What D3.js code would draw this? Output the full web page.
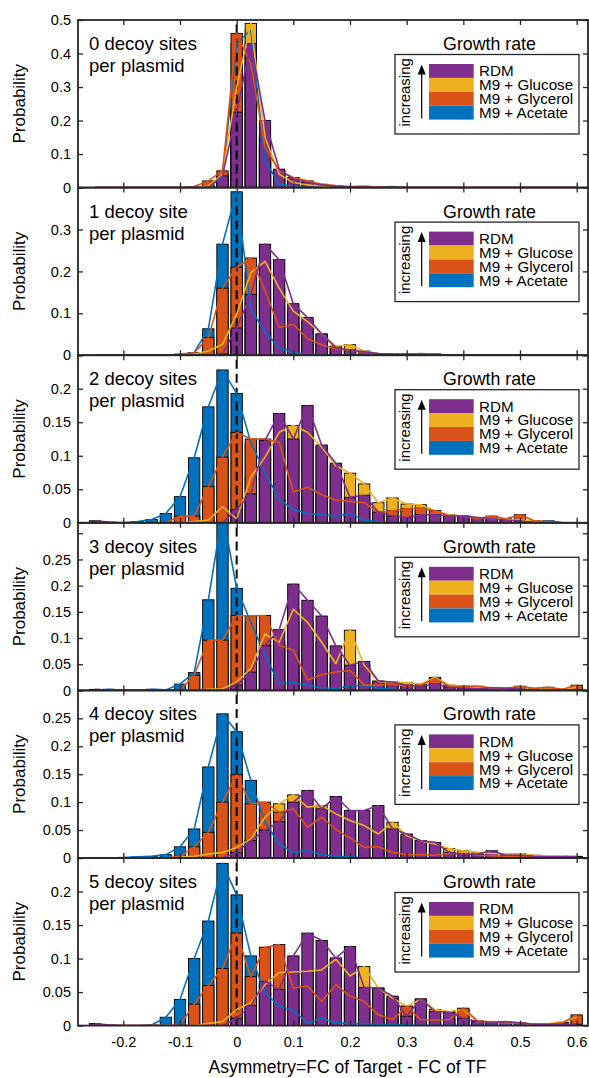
<!DOCTYPE html>
<html><head><meta charset="utf-8">
<script src="https://cdn.jsdelivr.net/npm/d3@7"></script>
<style>
body{margin:0;background:#fff}
svg{display:block}
text{font-family:"Liberation Sans",Arial,sans-serif;fill:#000}
</style>
</head><body>
<svg id="c" width="589" height="1078"></svg>
<script>
// ---------- data ----------
const binCenters = [-0.25,-0.225,-0.2,-0.175,-0.15,-0.125,-0.1,-0.075,-0.05,-0.025,0,0.025,0.05,0.075,0.1,0.125,0.15,0.175,0.2,0.225,0.25,0.275,0.3,0.325,0.35,0.375,0.4,0.425,0.45,0.475,0.5,0.525,0.55,0.575,0.6];
const seriesNames = ["RDM","M9 + Glucose","M9 + Glycerol","M9 + Acetate"];
const seriesColors = ["#7E2F8E","#EDB120","#D95319","#0072BD"];
const panelLabels = [["0 decoy sites","per plasmid"],["1 decoy site","per plasmid"],["2 decoy sites","per plasmid"],["3 decoy sites","per plasmid"],["4 decoy sites","per plasmid"],["5 decoy sites","per plasmid"]];
const yMax = [0.5,0.4,0.25,0.32,0.3,0.25];
const yTicks = [[0,0.1,0.2,0.3,0.4,0.5],[0,0.1,0.2,0.3,0.4],[0,0.05,0.1,0.15,0.2,0.25],[0,0.05,0.1,0.15,0.2,0.25,0.3],[0,0.05,0.1,0.15,0.2,0.25,0.3],[0,0.05,0.1,0.15,0.2,0.25]];
const yTickLabels = [["0","0.1","0.2","0.3","0.4","0.5"],["0","0.1","0.2","0.3",""],["0","0.05","0.1","0.15","0.2",""],["0","0.05","0.1","0.15","0.2","0.25",""],["0","0.05","0.1","0.15","0.2","0.25",""],["0","0.05","0.1","0.15","0.2",""]];
const xTicks = [-0.2,-0.1,0,0.1,0.2,0.3,0.4,0.5,0.6];
const xTickLabels = ["-0.2","-0.1","0","0.1","0.2","0.3","0.4","0.5","0.6"];
const xLabel = "Asymmetry=FC of Target - FC of TF";
const yLabel = "Probability";
const legendTitle = "Growth rate";
const legendSide = "increasing";

// panel 0
const rdm0      = [0,0,0,0,0,0,0,0,0,0.035,0.225,0.43,0.2,0.055,0.025,0.015,0.008,0.004,0.002,0,0,0,0,0,0,0,0,0,0,0,0,0,0,0,0];
const glucose0  = [0,0,0,0,0,0,0,0,0.005,0.04,0.3,0.49,0.15,0.04,0.015,0.008,0.004,0,0,0,0,0,0,0,0,0,0,0,0,0,0,0,0,0,0];
const glycerol0 = [0,0,0,0,0,0,0,0.003,0.02,0.05,0.46,0.37,0.12,0.05,0.03,0.02,0.01,0.006,0.003,0.004,0.002,0,0,0,0,0,0,0,0,0,0,0,0,0,0];
const acetate0  = [0,0,0,0,0,0,0,0,0.003,0.03,0.43,0.47,0.08,0.01,0.005,0,0,0,0,0,0.002,0.003,0,0,0,0,0,0,0,0,0,0,0,0,0];
// panel 1
const rdm1      = [0,0,0,0,0,0,0,0,0,0.003,0.065,0.145,0.265,0.228,0.123,0.09,0.051,0.018,0.012,0.008,0.004,0.002,0.002,0,0,0,0,0,0,0,0,0,0,0,0];
const glucose1  = [0,0,0,0,0,0,0.002,0.003,0.01,0.026,0.098,0.197,0.224,0.16,0.105,0.08,0.05,0.022,0.025,0.01,0.004,0.002,0,0,0,0,0,0,0,0,0,0,0,0,0];
const glycerol1 = [0,0,0,0,0,0,0.002,0.006,0.042,0.16,0.21,0.232,0.154,0.066,0.074,0.04,0.025,0.015,0.012,0.006,0.004,0.003,0.002,0.002,0.003,0,0,0,0,0,0,0,0,0,0];
const acetate1  = [0,0,0,0,0,0,0.002,0.006,0.063,0.265,0.39,0.11,0.055,0.018,0.006,0.003,0.002,0,0,0,0,0,0.002,0.004,0.002,0,0,0,0,0,0,0,0,0,0];
// panel 2
const rdm2      = [0.003,0.001,0,0,0,0,0,0,0,0,0.02,0.043,0.123,0.163,0.125,0.175,0.116,0.089,0.038,0.041,0.016,0.01,0.008,0.012,0.012,0.01,0.01,0.008,0.006,0.004,0.003,0,0,0,0];
const glucose2  = [0,0,0,0,0,0,0,0.002,0.004,0.024,0.006,0.068,0.098,0.135,0.145,0.135,0.113,0.085,0.074,0.058,0.03,0.037,0.028,0.027,0.018,0.012,0.01,0.008,0.006,0.005,0.004,0.003,0,0,0];
const glycerol2 = [0,0,0,0,0,0,0.01,0.01,0.054,0.098,0.135,0.125,0.125,0.12,0.046,0.053,0.042,0.034,0.032,0.03,0.015,0.018,0.021,0.022,0.018,0.01,0.01,0.006,0.01,0.006,0.012,0.003,0.002,0,0];
const acetate2  = [0,0,0,0.002,0.005,0.014,0.039,0.097,0.173,0.228,0.193,0.12,0.075,0.035,0.02,0.014,0.012,0.01,0.014,0.004,0.002,0,0,0,0,0,0,0,0,0,0,0,0.003,0,0];
// panel 3
const rdm3      = [0.002,0,0,0,0,0,0,0,0,0,0.01,0.035,0.086,0.116,0.203,0.172,0.142,0.085,0.048,0.055,0.018,0.016,0.01,0.008,0.012,0.006,0.004,0.003,0.005,0.004,0.003,0,0,0,0];
const glucose3  = [0,0,0,0,0,0,0,0,0.002,0.003,0.016,0.042,0.108,0.092,0.155,0.13,0.092,0.051,0.115,0.048,0.017,0.015,0.015,0.012,0.025,0.01,0.008,0.006,0.004,0.003,0.003,0.002,0.002,0.002,0.006];
const glycerol3 = [0,0,0,0,0,0,0,0.029,0.096,0.096,0.143,0.142,0.143,0.086,0.077,0.02,0.03,0.035,0.038,0.01,0.01,0.012,0.008,0.01,0.023,0.008,0.008,0.008,0.005,0.004,0.008,0.004,0.006,0.002,0.01];
const acetate3  = [0,0.002,0,0,0.002,0.001,0.012,0.034,0.173,0.34,0.195,0.13,0.067,0.013,0.015,0.01,0.005,0.004,0.008,0.01,0.004,0.002,0,0,0,0,0,0,0,0.002,0,0,0,0,0];
// panel 4
const rdm4      = [0,0,0,0,0,0,0,0,0,0,0.01,0.031,0.05,0.065,0.1,0.121,0.088,0.11,0.085,0.085,0.094,0.052,0.043,0.031,0.028,0.01,0.006,0.007,0.013,0.005,0.005,0.003,0.002,0.002,0.002];
const glucose4  = [0,0,0,0,0,0,0.002,0.003,0.007,0.01,0.019,0.034,0.073,0.097,0.113,0.091,0.094,0.079,0.067,0.058,0.043,0.064,0.04,0.031,0.025,0.017,0.013,0.01,0.008,0.007,0.008,0.005,0.004,0.004,0.003];
const glycerol4 = [0,0,0,0,0,0,0.003,0.02,0.046,0.1,0.149,0.097,0.1,0.082,0.088,0.055,0.073,0.051,0.036,0.019,0.02,0.01,0.006,0.006,0.005,0.008,0.008,0.005,0.004,0.003,0.003,0.002,0.002,0.001,0.002];
const acetate4  = [0,0,0.001,0.002,0.003,0.006,0.02,0.052,0.163,0.258,0.226,0.139,0.064,0.025,0.01,0.013,0.006,0.003,0.002,0,0,0,0,0,0,0,0,0,0,0,0,0,0,0,0];
// panel 5
const rdm5      = [0.003,0.001,0,0,0,0,0,0,0,0,0.011,0.03,0.066,0.054,0.104,0.138,0.127,0.101,0.118,0.057,0.056,0.044,0.014,0.04,0.021,0.02,0.011,0.006,0.005,0.006,0.004,0.002,0.002,0.002,0.002];
const glucose5  = [0,0,0,0,0,0,0,0,0.003,0.006,0.024,0.034,0.061,0.079,0.08,0.081,0.083,0.099,0.074,0.088,0.056,0.041,0.029,0.039,0.024,0.021,0.024,0.006,0.006,0.005,0.004,0.002,0.003,0.005,0.013];
const glycerol5 = [0,0,0,0,0,0,0.001,0.032,0.06,0.085,0.138,0.073,0.117,0.121,0.056,0.059,0.036,0.061,0.044,0.036,0.016,0.009,0.029,0.009,0.008,0.009,0.026,0.007,0.005,0.004,0.004,0.002,0.002,0.004,0.016];
const acetate5  = [0,0,0,0,0.001,0.0125,0.039,0.1,0.156,0.242,0.195,0.104,0.049,0.029,0.023,0.004,0.011,0.004,0.003,0.003,0.002,0.002,0.001,0,0,0,0,0,0,0,0,0,0,0,0];

const panelData = [
  [rdm0,glucose0,glycerol0,acetate0],
  [rdm1,glucose1,glycerol1,acetate1],
  [rdm2,glucose2,glycerol2,acetate2],
  [rdm3,glucose3,glycerol3,acetate3],
  [rdm4,glucose4,glycerol4,acetate4],
  [rdm5,glucose5,glycerol5,acetate5]
];

// ---------- layout ----------
const svg = d3.select("#c");
const left = 78, right = 588, top0 = 20, ph = 167.6;
const binWidth = 0.025, barFrac = 0.8;
const drawOrder = [3,1,2,0]; // acetate, glucose, glycerol, RDM (front)
const axisColor = "#262626";
const x = d3.scaleLinear().domain([-0.28,0.62]).range([left,right]);
const barW = x(binWidth*barFrac) - x(0);

svg.append("rect").attr("width",589).attr("height",1078).attr("fill","#fff");
const defs = svg.append("defs");

panelData.forEach((pd,i)=>{
  const top = top0 + i*ph, bottom = top + ph;
  const y = d3.scaleLinear().domain([0,yMax[i]]).range([bottom,top]);
  const g = svg.append("g");
  const clipId = "clip"+i;
  defs.append("clipPath").attr("id",clipId).append("rect")
    .attr("x",left).attr("y",top).attr("width",right-left).attr("height",ph);
  const plot = g.append("g").attr("clip-path",`url(#${clipId})`);

  drawOrder.forEach(s=>{
    const vals = binCenters.map((c,k)=>({c:c,v:pd[s][k]})).filter(d=>d.v>0);
    plot.append("g").selectAll("rect").data(vals).join("rect")
      .attr("x",d=>x(d.c) - barW/2)
      .attr("width",barW)
      .attr("y",d=>y(d.v))
      .attr("height",d=>bottom - y(d.v))
      .attr("fill",seriesColors[s])
      .attr("stroke","#000")
      .attr("stroke-width",0.9);
  });

  plot.append("line")
    .attr("x1",x(0)).attr("x2",x(0)).attr("y1",bottom).attr("y2",top)
    .attr("stroke","#000").attr("stroke-width",2).attr("stroke-dasharray","9,5");

  const line = d3.line().x((d,k)=>x(binCenters[k])).y(d=>y(d));
  drawOrder.forEach(s=>{
    plot.append("path").attr("d",line(pd[s]))
      .attr("fill","none").attr("stroke",seriesColors[s])
      .attr("stroke-width",1.6).attr("stroke-linejoin","round");
  });

  // axes
  const fmtY = v => yTickLabels[i][yTicks[i].indexOf(v)];
  const ax = [
    g.append("g").attr("transform",`translate(${left},0)`)
      .call(d3.axisLeft(y).tickValues(yTicks[i]).tickSize(-5).tickPadding(7).tickFormat(fmtY)),
    g.append("g").attr("transform",`translate(${right},0)`)
      .call(d3.axisRight(y).tickValues(yTicks[i]).tickSize(-5).tickFormat("")),
    g.append("g").attr("transform",`translate(0,${top})`)
      .call(d3.axisTop(x).tickValues(xTicks).tickSize(-5).tickFormat("")),
    g.append("g").attr("transform",`translate(0,${bottom})`)
      .call(d3.axisBottom(x).tickValues(xTicks).tickSize(-5).tickPadding(11)
        .tickFormat(i===5 ? (v=>xTickLabels[xTicks.indexOf(v)]) : ""))
  ];
  ax.forEach(a=>{
    a.select(".domain").remove();
    a.selectAll(".tick line").attr("stroke",axisColor).attr("stroke-width",1.3);
    a.selectAll(".tick text").attr("fill",axisColor).attr("font-size",14.5)
      .attr("font-family","Liberation Sans, Arial, sans-serif");
  });
  g.append("rect").attr("x",left).attr("y",top).attr("width",right-left).attr("height",ph)
    .attr("fill","none").attr("stroke",axisColor).attr("stroke-width",1.8);

  // y label
  g.append("text").attr("transform",`translate(24.5,${(top+bottom)/2}) rotate(-90)`)
    .attr("text-anchor","middle").attr("font-size",17).attr("fill",axisColor).text(yLabel);

  // panel label
  panelLabels[i].forEach((t,j)=>{
    g.append("text").attr("x",89).attr("y",top+30+j*22).attr("font-size",18.5).text(t);
  });

  // legend
  const lg = g.append("g").attr("transform",`translate(0,${top})`);
  const bx = 395, by = 34.5, bw = 184, bh = 79.5;
  lg.append("text").attr("x",489.5).attr("y",30).attr("text-anchor","middle")
    .attr("font-size",17.8).text(legendTitle);
  lg.append("rect").attr("x",bx).attr("y",by).attr("width",bw).attr("height",bh)
    .attr("fill","#fff").attr("stroke",axisColor).attr("stroke-width",1.3);
  const rowH = 13.9, row0 = by + 9.5;
  seriesNames.forEach((n,j)=>{
    lg.append("rect").attr("x",429).attr("y",row0 + j*rowH).attr("width",44.7).attr("height",rowH)
      .attr("fill",seriesColors[j]);
    lg.append("text").attr("x",479).attr("y",row0 + j*rowH + rowH/2 + 5.4)
      .attr("font-size",15.2).text(n);
  });
  lg.append("text").attr("transform",`translate(410,${by+37.8}) rotate(-90)`)
    .attr("text-anchor","middle").attr("font-size",15).text(legendSide);
  lg.append("line").attr("x1",421.7).attr("x2",421.7).attr("y1",by+64).attr("y2",by+18)
    .attr("stroke","#000").attr("stroke-width",1.2);
  lg.append("path").attr("d",`M421.7,${by+10} L417.7,${by+20} L425.7,${by+20} Z`).attr("fill","#000");
});

// x label
svg.append("text").attr("x",347.5).attr("y",1073).attr("text-anchor","middle")
  .attr("font-size",17.5).attr("fill",axisColor).text(xLabel);
</script>
</body></html>
